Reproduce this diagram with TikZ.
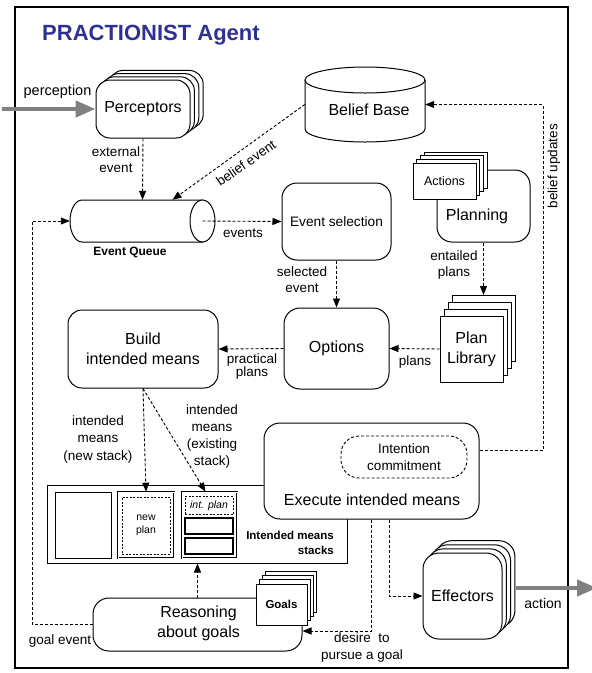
\documentclass[tikz,border=0pt]{standalone}
\usepackage{fontspec}
\setmainfont{Liberation Sans}
\usetikzlibrary{arrows.meta,calc}
\definecolor{titleblue}{RGB}{46,49,146}
\definecolor{arrowgray}{RGB}{128,128,128}
\begin{document}
\begin{tikzpicture}[x=1pt,y=-1pt,
  box/.style={draw, line width=1pt, fill=white, rounded corners=#1, inner sep=0pt},
  box/.default=14pt,
  sq/.style={draw, line width=1pt, fill=white, inner sep=0pt},
  big/.style={font=\fontsize{16}{20}\selectfont, align=center, inner sep=0pt},
  lbl/.style={font=\fontsize{13.5}{16}\selectfont, align=center, inner sep=0pt},
  da/.style={draw, line width=0.9pt, dash pattern=on 3pt off 2pt, -{Triangle[length=9pt,width=7pt]}},
  dl/.style={draw, line width=0.9pt, dash pattern=on 3pt off 2pt},
  garrow/.style={line width=4.5pt, color=arrowgray, -{Triangle[length=20pt,width=16pt]}}
]
\useasboundingbox (0,0) rectangle (592,673);
\draw[line width=2pt] (15,7) rectangle (568,668);
\node[anchor=base west, font=\fontsize{22}{26}\selectfont\bfseries, text=titleblue, inner sep=0] (title) at (42,40) {PRACTIONIST Agent};

% Perceptors
\foreach \k in {3,2,1}{\node[box=14pt, minimum width=94pt, minimum height=58pt, xshift=\k*4.4pt, yshift=\k*3.2pt] at (143,109) {};}
\node[box=14pt, minimum width=94pt, minimum height=58pt, big] (perc) at (143,109) {Perceptors};

% Belief base
\node[minimum width=120pt, minimum height=75pt, inner sep=0] (bb) at (365,104.5) {};
\draw[line width=1pt, fill=white] (305,80) -- (305,129) .. controls (305,136.2) and (331.9,142) .. (365,142) .. controls (398.1,142) and (425,136.2) .. (425,129) -- (425,80);
\draw[line width=1pt, fill=white] (365,80) ellipse [x radius=60pt, y radius=13pt];
\node[big] (bbt) at (369,110) {Belief Base};

% Event queue
\draw[line width=1pt, fill=white] (82,200) -- (202.5,200) -- (202.5,242) -- (82,242) .. controls (75.4,242) and (70,232.6) .. (70,221) .. controls (70,209.4) and (75.4,200) .. (82,200) -- cycle;
\draw[line width=1pt, fill=white] (202.5,221) ellipse [x radius=12.5pt, y radius=21pt];
\node[minimum width=145pt, minimum height=42pt, inner sep=0] (eq) at (142.5,221) {};
\node[font=\fontsize{12}{14}\selectfont\bfseries, inner sep=0] (eqt) at (130,252) {Event Queue};

% Event selection
\node[box=15pt, minimum width=109pt, minimum height=77pt, font=\fontsize{13.7}{16}\selectfont] (es) at (336.5,221.5) {Event selection};

% Planning + Actions
\node[box=15pt, minimum width=93pt, minimum height=72pt] (pln) at (483.5,206) {};
\node[big] (plnt) at (477,216) {Planning};
\foreach \k in {3,2,1}{\node[sq, minimum width=63pt, minimum height=36pt, xshift=\k*3.8pt, yshift=\k*3.6pt] at (444.5,181) {};}
\node[sq, minimum width=63pt, minimum height=36pt, font=\fontsize{12.5}{15}\selectfont] (act) at (444.5,181) {Actions};

% Plan library
\foreach \k in {3,2,1}{\node[sq, minimum width=63pt, minimum height=66pt, xshift=\k*4pt, yshift=\k*6.7pt] at (471.5,349) {};}
\node[sq, minimum width=63pt, minimum height=66pt, big] (pl) at (471.5,349) {Plan\\Library};

% Options, Build
\node[box=16pt, minimum width=105pt, minimum height=81pt, big] (opt) at (336.5,348.5) {Options};
\node[box=14pt, minimum width=150pt, minimum height=78pt, big] (bim) at (143,349) {Build\\intended means};

% Stacks
\node[sq, minimum width=300pt, minimum height=78pt] (st) at (197,524) {};
\node[sq, minimum width=56pt, minimum height=66pt] (s1) at (83,525) {};
\node[sq, double, double distance=1pt, line width=0.6pt, minimum width=56pt, minimum height=66pt] (s2) at (146,525) {};
\node[draw, dash pattern=on 2pt off 1.5pt, line width=0.8pt, minimum width=48pt, minimum height=57pt, inner sep=0, font=\fontsize{10.5}{13.3}\selectfont, align=center] (np) at (146,525.5) {new\\plan};
\node[sq, double, double distance=1pt, line width=0.6pt, minimum width=55pt, minimum height=66pt] (s3) at (209.5,525) {};
\node[draw, dash pattern=on 2pt off 1.5pt, line width=0.8pt, minimum width=48pt, minimum height=18pt, inner sep=0, font=\fontsize{10.5}{13}\selectfont\itshape] (ip) at (209,505.5) {int. plan};
\node[sq, line width=1.2pt, minimum width=48pt, minimum height=16pt] (r1) at (209,526) {};
\node[sq, line width=1.2pt, minimum width=48pt, minimum height=16pt] (r2) at (209,546) {};
\node[font=\fontsize{11.5}{15}\selectfont\bfseries, align=right, anchor=east, inner sep=0] (stt) at (334,542.5) {Intended means\\stacks};

% Execute
\node[box=16pt, minimum width=215pt, minimum height=96pt] (ex) at (371.5,471) {};
\node[big] (ext) at (372,500) {Execute intended means};
\node[draw, dash pattern=on 3pt off 2pt, line width=0.9pt, rounded corners=18pt, minimum width=126pt, minimum height=42pt, inner sep=0, align=center, font=\fontsize{13.5}{17}\selectfont] (ic) at (404,457) {Intention\\commitment};

% Reasoning + Goals
\node[box=16pt, minimum width=209pt, minimum height=53pt] (rs) at (197.5,624.5) {};
\node[big] (rst) at (198.5,623) {Reasoning\\about goals};
\foreach \k in {3,2,1}{\node[sq, minimum width=51pt, minimum height=41pt, xshift=\k*3.3pt, yshift=\k*4.3pt] at (281.5,604.5) {};}
\node[sq, minimum width=51pt, minimum height=41pt, font=\fontsize{11.5}{14}\selectfont\bfseries] (gl) at (281.5,604.5) {Goals};

% Effectors
\foreach \k in {3,2,1}{\node[box=16pt, minimum width=79pt, minimum height=86pt, xshift=\k*4.3pt, yshift=\k*4.1pt] at (462.5,596) {};}
\node[box=16pt, minimum width=79pt, minimum height=86pt, big] (eff) at (462.5,596) {Effectors};

% Connectors
\coordinate (pin) at (2,109);
\draw[garrow] (pin) -- (perc.west);
\node[lbl, font=\fontsize{14.5}{17}\selectfont] (pt) at (57.5,92) {perception};
\draw[da] (perc.south) -- (eq.north);
\node[lbl] (ee) at (116,160) {external\\event};
\draw[da] (bb.west) -- ([xshift=30pt]eq.north);
\node[lbl, rotate=35] (be) at (246,163) {belief event};
\draw[da] ([xshift=60pt]eq.center) -- (es.west);
\node[lbl] (evl) at (243,233) {events};
\draw[da] (es.south) -- (opt.north);
\node[lbl] (sel) at (302,280) {selected\\event};
\coordinate (pltop) at (483.5,295);
\draw[da] (pln.south) -- (pltop);
\node[lbl] (ent) at (454,265) {entailed\\plans};
\draw[da] (pl.west) -- (opt.east);
\node[lbl] (plb) at (415,362) {plans};
\draw[da] (opt.west) -- (bim.east);
\node[lbl, font=\fontsize{13.5}{13}\selectfont] (prl) at (252,367) {practical\\plans};
\draw[da] (bim.south) -- (s2.north);
\draw[da] (bim.south) -- ([xshift=-4pt]s3.north);
\node[lbl, font=\fontsize{13.5}{17.5}\selectfont] (imn) at (98,439) {intended\\means\\(new stack)};
\node[lbl, font=\fontsize{13.5}{17}\selectfont] (ime) at (212,436) {intended\\means\\(existing\\stack)};
\coordinate (bu1) at (543,450);
\coordinate (bu2) at (543,104.5);
\draw[da] (ex.east |- bu1) -- (bu1) -- (bu2) -- (bb.east);
\node[lbl, rotate=90] (bul) at (554,166) {belief updates};
\draw[da] ([xshift=17.5pt]ex.south) |- (eff.west);
\draw[da] (ex.south) |- ([yshift=-6.5pt]rs.east);
\node[lbl, font=\fontsize{13.5}{17}\selectfont] (des) at (362,648) {desire\ \ to\\pursue a goal};
\draw[da] (rs.north) -- (rs.north |- st.south);
\coordinate (gc) at (32,221);
\draw[da] (rs.west) -| (gc) -- (eq.west);
\node[lbl] (gev) at (60,641) {goal event};
\coordinate (aout) at (597,588);
\draw[garrow] ([xshift=13pt,yshift=8pt]eff.east) -- (aout);
\node[lbl, font=\fontsize{14}{17}\selectfont] (acl) at (543,603) {action};
\end{tikzpicture}
\end{document}
